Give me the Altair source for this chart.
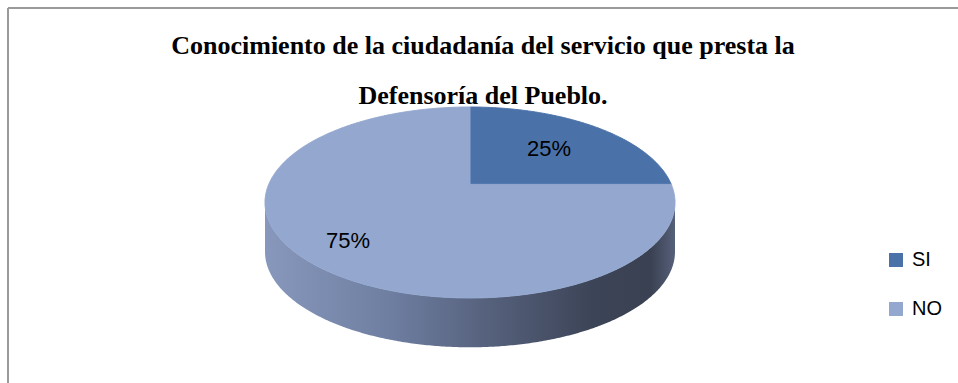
import numpy as np
import pandas as pd
import altair as alt

# ---- data ----
categories = ["SI", "NO"]
values = [25, 75]
colors = ["#4a72a9", "#93a7cf"]
title_lines = ["Conocimiento de la ciudadanía del servicio que presta la",
               "Defensoría del Pueblo."]

# ---- style / geometry parameters ----
TILT = 0.19      # perspective tilt of the pie top
DEPTH = 0.516    # thickness of the pie (in top-face radius units)
LABEL_R = 0.7    # label radius (fraction of pie radius)
N = 720


def project(u, v):
    den = 1 + TILT * v
    return u * np.sqrt(1 - TILT ** 2) / den, (v + TILT) / den


total = float(sum(values))
face_rows, side_rows, label_rows = [], [], []
start = 0.0
for cat, val in zip(categories, values):
    end = start + val / total
    th = np.linspace(start, end, max(2, int(N * val / total) + 1)) * 2 * np.pi
    x, y = project(np.sin(th), np.cos(th))
    cx, cy = project(0.0, 0.0)
    pts = [(cx, cy)] + list(zip(x, y)) + [(cx, cy)]
    for i, (px, py) in enumerate(pts):
        face_rows.append({"cat": cat, "i": i, "x": float(px), "y": float(py)})
    front = y <= 0
    if front.any():
        fx, fy = x[front], y[front]
        sx = list(fx) + list(fx[::-1])
        sy = list(fy) + list(fy[::-1] - DEPTH)
        for i, (px, py) in enumerate(zip(sx, sy)):
            side_rows.append({"cat": cat, "i": i, "x": float(px), "y": float(py)})
    mid = (start + end) / 2 * 2 * np.pi
    lx, ly = project(LABEL_R * np.sin(mid), LABEL_R * np.cos(mid))
    label_rows.append({"cat": cat, "x": float(lx), "y": float(ly),
                       "text": f"{round(val / total * 100)}%"})
    start = end

face_df = pd.DataFrame(face_rows)
side_df = pd.DataFrame(side_rows)
label_df = pd.DataFrame(label_rows)

xs = alt.Scale(domain=[-1, 1], range=[257, 667], nice=False, zero=False)
ys = alt.Scale(domain=[-1, 1], range=[178, -13], nice=False, zero=False)
cscale = alt.Scale(domain=categories, range=colors)

side_grad = alt.Gradient(
    gradient="linear",
    stops=[
        alt.GradientStop(color="#8898bc", offset=0),
        alt.GradientStop(color="#6f7fa2", offset=0.3),
        alt.GradientStop(color="#55607b", offset=0.55),
        alt.GradientStop(color="#3c4457", offset=0.8),
        alt.GradientStop(color="#3a4152", offset=0.94),
        alt.GradientStop(color="#56607a", offset=1),
    ],
    x1=0, x2=1, y1=0, y2=0,
)

side = alt.Chart(side_df).mark_line(fill=side_grad, stroke="transparent").encode(
    x=alt.X("x:Q", scale=xs, axis=None),
    y=alt.Y("y:Q", scale=ys, axis=None),
    detail="cat:N",
    order=alt.Order("i:Q"),
)

face = alt.Chart(face_df).mark_line(strokeWidth=1).encode(
    x=alt.X("x:Q", scale=xs, axis=None),
    y=alt.Y("y:Q", scale=ys, axis=None),
    fill=alt.Fill("cat:N", scale=cscale, sort=categories,
                  legend=alt.Legend(title=None, orient="none", legendX=878, legendY=130,
                                    symbolType="square", symbolSize=196,
                                    symbolStrokeWidth=0, labelFont="Liberation Sans",
                                    labelFontSize=20, labelColor="black",
                                    rowPadding=29, labelOffset=6, padding=0)),
    stroke=alt.Stroke("cat:N", scale=cscale, legend=None),
    detail="cat:N",
    order=alt.Order("i:Q"),
)

labels = alt.Chart(label_df).mark_text(font="Liberation Sans", fontSize=22,
                                       color="black", dx=-12, dy=6).encode(
    x=alt.X("x:Q", scale=xs, axis=None),
    y=alt.Y("y:Q", scale=ys, axis=None),
    text="text:N",
)

frame_df = pd.DataFrame({"k": [0]})
frame_top = alt.Chart(frame_df).mark_rule(color="#9a9a9a", strokeWidth=2).encode(
    x=alt.value(0), x2=alt.value(960), y=alt.value(-112))
frame_left = alt.Chart(frame_df).mark_rule(color="#9a9a9a", strokeWidth=2).encode(
    x=alt.value(0), y=alt.value(-112), y2=alt.value(270))

chart = alt.layer(frame_top, frame_left, side, face, labels).properties(
    width=950,
    height=263,
    autosize="none",
    padding={"left": 8, "top": 120, "right": 0, "bottom": 0},
    title=alt.TitleParams(text=title_lines, font="Liberation Serif", fontSize=26,
                          fontWeight="bold", color="black", lineHeight=50,
                          anchor="middle", offset=-102),
).configure_view(strokeWidth=0)

chart.save("out.html", embed_options={"renderer": "svg", "actions": False})
